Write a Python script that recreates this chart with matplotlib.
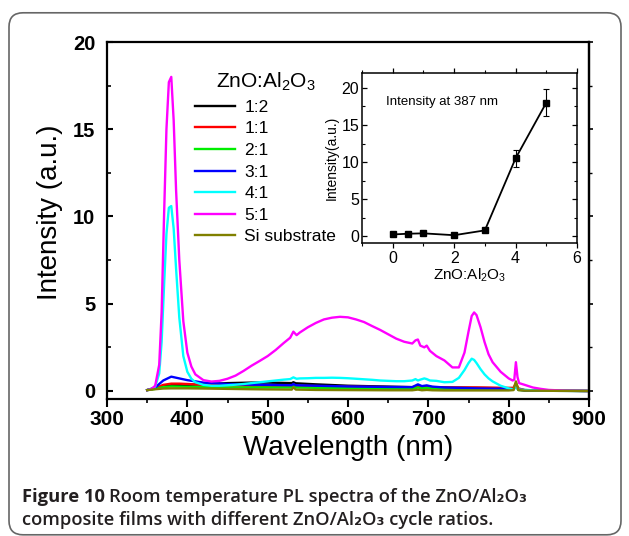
import matplotlib
matplotlib.use('Agg')
import matplotlib.pyplot as plt
from matplotlib.patches import FancyBboxPatch
from matplotlib.ticker import MultipleLocator

plt.rcParams['font.family'] = ['Liberation Sans', 'DejaVu Sans']
plt.rcParams['mathtext.fontset'] = 'custom'
plt.rcParams['mathtext.rm'] = 'Liberation Sans'
plt.rcParams['mathtext.it'] = 'Liberation Sans:italic'
plt.rcParams['mathtext.bf'] = 'Liberation Sans:bold'

# ---------------- data ----------------
wl_main = [350, 355, 360, 365, 368, 371, 374, 377, 380, 383, 386, 390, 395, 400, 405, 410,
           420, 430, 440, 450, 460, 470, 480, 490, 500, 510, 520, 528, 532, 536, 540, 550,
           560, 570, 580, 590, 600, 610, 620, 630, 640, 650, 660, 670, 680, 684, 687, 690,
           695, 698, 702, 710, 720, 730, 738, 745, 750, 754, 757, 760, 765, 770, 775, 780,
           790, 800, 805, 807, 809, 811, 813, 820, 830, 840, 850, 870, 900]
i_51 = [0.05, 0.1, 0.3, 1.5, 4.5, 10.0, 15.0, 17.7, 18.0, 15.5, 11.5, 7.5, 4.0, 2.2, 1.4, 0.95,
        0.62, 0.54, 0.58, 0.7, 0.88, 1.15, 1.45, 1.72, 2.0, 2.35, 2.75, 3.05, 3.4, 3.2, 3.35, 3.65,
        3.9, 4.1, 4.2, 4.25, 4.22, 4.1, 3.95, 3.72, 3.5, 3.25, 3.0, 2.82, 2.72, 2.9, 2.95, 2.6,
        2.5, 2.6, 2.3, 2.0, 1.75, 1.35, 1.35, 2.2, 3.4, 4.3, 4.5, 4.35, 3.65, 2.8, 2.1, 1.65,
        1.1, 0.72, 0.6, 0.65, 1.65, 0.8, 0.45, 0.35, 0.2, 0.12, 0.06, 0.02, 0.0]
i_41 = [0.05, 0.1, 0.25, 1.0, 2.8, 6.0, 9.0, 10.5, 10.6, 9.3, 7.0, 4.2, 2.0, 1.1, 0.7, 0.5,
        0.35, 0.3, 0.3, 0.33, 0.36, 0.4, 0.45, 0.5, 0.55, 0.6, 0.65, 0.68, 0.78, 0.7, 0.72, 0.73,
        0.75, 0.75, 0.76, 0.75, 0.73, 0.7, 0.67, 0.64, 0.6, 0.58, 0.56, 0.56, 0.6, 0.68, 0.6, 0.65,
        0.72, 0.68, 0.6, 0.58, 0.5, 0.52, 0.75, 1.2, 1.6, 1.85, 1.78, 1.6, 1.25, 0.95, 0.72, 0.55,
        0.3, 0.15, 0.1, 0.12, 0.3, 0.12, 0.08, 0.06, 0.04, 0.03, 0.02, 0.01, 0.0]

wl_low = [350, 360, 370, 380, 390, 400, 420, 450, 480, 500, 530, 532, 535, 560, 600, 650,
          680, 687, 692, 698, 705, 720, 760, 800, 806, 809, 812, 820, 850, 900]
i_12 = [0.05, 0.15, 0.3, 0.35, 0.35, 0.35, 0.38, 0.45, 0.48, 0.48, 0.45, 0.5, 0.44, 0.38, 0.3, 0.25,
        0.22, 0.28, 0.24, 0.25, 0.22, 0.2, 0.18, 0.15, 0.15, 0.35, 0.12, 0.05, 0.02, 0.0]
i_11 = [0.05, 0.15, 0.35, 0.42, 0.42, 0.4, 0.35, 0.32, 0.3, 0.3, 0.3, 0.38, 0.3, 0.28, 0.25, 0.22,
        0.2, 0.24, 0.2, 0.22, 0.2, 0.2, 0.2, 0.18, 0.18, 0.45, 0.15, 0.05, 0.02, 0.0]
i_21 = [0.05, 0.12, 0.22, 0.26, 0.25, 0.24, 0.22, 0.2, 0.2, 0.2, 0.2, 0.28, 0.2, 0.18, 0.15, 0.13,
        0.12, 0.2, 0.15, 0.18, 0.14, 0.12, 0.1, 0.08, 0.08, 0.35, 0.06, 0.03, 0.01, 0.0]
i_31 = [0.05, 0.2, 0.6, 0.82, 0.72, 0.62, 0.48, 0.4, 0.36, 0.35, 0.33, 0.4, 0.33, 0.3, 0.26, 0.23,
        0.22, 0.38, 0.28, 0.32, 0.25, 0.2, 0.15, 0.12, 0.1, 0.3, 0.08, 0.03, 0.01, 0.0]
i_si = [0.05, 0.1, 0.14, 0.15, 0.15, 0.15, 0.14, 0.12, 0.1, 0.09, 0.08, 0.22, 0.08, 0.06, 0.05, 0.04,
        0.04, 0.08, 0.04, 0.06, 0.04, 0.03, 0.03, 0.03, 0.05, 0.55, 0.05, 0.02, 0.01, 0.0]

series_labels = ['1:2', '1:1', '2:1', '3:1', '4:1', '5:1', 'Si substrate']
series_colors = ['#000000', '#ff0000', '#00ee00', '#0000ff', '#00ffff', '#ff00ff', '#808000']

inset_x = [0, 0.5, 1, 2, 3, 4, 5]
inset_y = [0.25, 0.35, 0.4, 0.15, 0.8, 10.5, 18.0]
inset_err = [0.1, 0.1, 0.1, 0.1, 0.15, 1.1, 1.8]

# ---------------- figure ----------------
W, H = 629, 536
fig = plt.figure(figsize=(W / 100, H / 100), dpi=100)

frame = FancyBboxPatch((0.09, 0.012), 6.12, 5.22, boxstyle='round,pad=0,rounding_size=0.14',
                       transform=fig.dpi_scale_trans, facecolor='none', edgecolor='#666666',
                       linewidth=1.2)
fig.patches.append(frame)

ax = fig.add_axes([107 / W, 1 - 399 / H, 482 / W, 357 / H])
series = [(wl_low, i_12), (wl_low, i_11), (wl_low, i_21), (wl_low, i_31),
          (wl_main, i_41), (wl_main, i_51), (wl_low, i_si)]
handles = []
for (x, y), lab, c in zip(series, series_labels, series_colors):
    ln, = ax.plot(x, y, color=c, lw=1.7, label=lab, solid_joinstyle='round')
    handles.append(ln)

ax.set_xlim(300, 900)
ax.set_ylim(-0.46, 20)
ax.xaxis.set_major_locator(MultipleLocator(100))
ax.xaxis.set_minor_locator(MultipleLocator(50))
ax.yaxis.set_major_locator(MultipleLocator(5))
ax.yaxis.set_minor_locator(MultipleLocator(2.5))
for s in ax.spines.values():
    s.set_linewidth(1.6)
ax.tick_params(axis='x', which='major', direction='out', length=5.8, width=1.5, pad=2,
               labelsize=15)
ax.tick_params(axis='x', which='minor', direction='out', length=3.0, width=1.2)
ax.tick_params(axis='y', which='major', direction='in', length=4.5, width=1.5, pad=8.5,
               labelsize=14.5)
ax.tick_params(axis='y', which='minor', direction='in', length=3.0, width=1.2)
for lab in ax.get_xticklabels() + ax.get_yticklabels():
    lab.set_fontweight('bold')

sec = ax.secondary_yaxis('right')
sec.yaxis.set_major_locator(MultipleLocator(5))
sec.yaxis.set_minor_locator(MultipleLocator(2.5))
sec.tick_params(which='major', direction='out', length=3, width=1.2, labelright=False)
sec.tick_params(which='minor', direction='out', length=2, width=1.0)
sec.spines['right'].set_linewidth(1.6)

ax.set_xlabel('Wavelength (nm)', fontsize=20)
ax.set_ylabel('Intensity (a.u.)', fontsize=20)
ax.xaxis.set_label_coords(0.5, -0.10)
ax.yaxis.set_label_coords(-0.092, 0.524)

leg = ax.legend(handles=handles, loc='upper left',
                bbox_to_anchor=(195 / W, 1 - 71 / H), bbox_transform=fig.transFigure,
                frameon=False, fontsize=12.5, title='ZnO:Al$_2$O$_3$', title_fontsize=15,
                handlelength=2.3, handletextpad=0.55, labelspacing=0.37, borderpad=0,
                borderaxespad=0)

# ---------------- inset ----------------
ax2 = fig.add_axes([362 / W, 1 - 243 / H, 215 / W, 170 / H])
ax2.errorbar(inset_x, inset_y, yerr=inset_err, fmt='-s', color='k', ms=4, lw=1.3,
             capsize=2.5, elinewidth=0.8, capthick=0.8)
ax2.set_xlim(-1, 6)
ax2.set_ylim(-0.9, 22)
ax2.xaxis.set_major_locator(MultipleLocator(2))
ax2.xaxis.set_minor_locator(MultipleLocator(1))
ax2.yaxis.set_major_locator(MultipleLocator(5))
ax2.yaxis.set_minor_locator(MultipleLocator(2.5))
for s in ax2.spines.values():
    s.set_linewidth(1.1)
ax2.tick_params(axis='x', which='major', direction='out', length=3.5, width=0.9,
                labelsize=11.5, pad=2)
ax2.tick_params(axis='x', which='minor', direction='out', length=2, width=0.8)
ax2.tick_params(axis='y', which='major', direction='in', length=3.5, width=0.9,
                labelsize=11.5, pad=2)
ax2.tick_params(axis='y', which='minor', direction='in', length=2, width=0.8)
ax2.tick_params(which='both', top=True, right=True)
ax2.set_xlabel('ZnO:Al$_2$O$_3$', fontsize=11, labelpad=1)
ax2.set_ylabel('Intensity(a.u.)', fontsize=10, labelpad=2)
ax2.text(0.112, 0.83, 'Intensity at 387 nm', transform=ax2.transAxes, fontsize=9.5,
         va='center', ha='left')

# ---------------- caption ----------------
cap_color = '#231f20'
cap_fam = ['Open Sans', 'DejaVu Sans']
fs_cap = 13.2
t1 = fig.text(22 / W, 1 - 497 / H, 'Figure 10', fontsize=fs_cap, fontweight='bold',
              family=cap_fam, color=cap_color, va='center', ha='left')
fig.canvas.draw()
bb = t1.get_window_extent()
fig.text((bb.x1 + 4) / W, 1 - 497 / H,
         'Room temperature PL spectra of the ZnO/Al\u2082O\u2083',
         fontsize=fs_cap, fontweight='semibold', family=cap_fam, color=cap_color,
         va='center', ha='left')
fig.text(22 / W, 1 - 520 / H, 'composite films with different ZnO/Al\u2082O\u2083 cycle ratios.',
         fontsize=fs_cap, fontweight='semibold', family=cap_fam, color=cap_color,
         va='center', ha='left')

fig.savefig('out.png', dpi=100)
